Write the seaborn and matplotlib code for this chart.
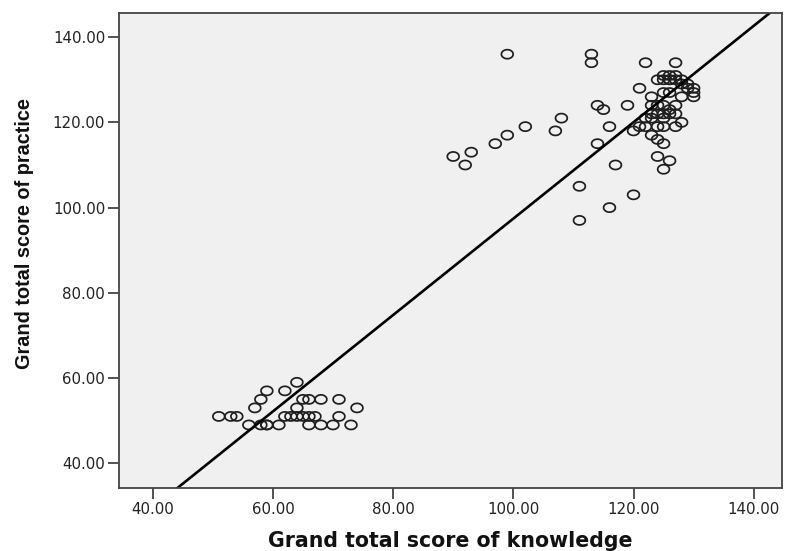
import numpy as np
import pandas as pd
import matplotlib
matplotlib.use("Agg")
import matplotlib.pyplot as plt
from matplotlib.path import Path
import seaborn as sns

# knowledge score (x) and practice score (y)
knowledge = [64, 59, 62, 58, 65, 66, 68, 71, 57, 64, 74,
             51, 53, 54, 62, 63, 64, 65, 66, 67, 71,
             56, 58, 59, 59, 61, 66, 68, 70, 73,
             99, 113, 113, 122, 127, 121,
             124, 125, 126, 127, 126, 127, 128, 125, 128, 129, 126,
             130, 130, 130, 129, 128, 125, 126, 123,
             114, 115, 119, 108, 116, 102, 107, 99, 97, 114, 120,
             93, 90, 92, 117, 111, 116, 111, 120, 124, 126, 125, 125, 124,
             123, 124, 125, 126, 127, 123, 124, 125, 126, 127,
             122, 123, 125, 122, 124, 125, 127, 128, 121, 123]
practice = [59, 57, 57, 55, 55, 55, 55, 55, 53, 53, 53,
            51, 51, 51, 51, 51, 51, 51, 51, 51, 51,
            49, 49, 49, 49, 49, 49, 49, 49, 49,
            136, 136, 134, 134, 134, 128,
            130, 130, 131, 131, 130, 130, 130, 131, 129, 129, 130,
            128, 127, 126, 128, 126, 127, 127, 126,
            124, 123, 124, 121, 119, 119, 118, 117, 115, 115, 118,
            113, 112, 110, 110, 105, 100, 97, 103, 112, 111, 109, 115, 116,
            124, 124, 124, 123, 124, 122, 122, 122, 122, 122,
            121, 121, 121, 119, 119, 119, 119, 120, 119, 117]
ticks = [40, 60, 80, 100, 120, 140]

df = pd.DataFrame({"knowledge": knowledge, "practice": practice})

sns.set_style("white")
plt.rcParams["font.family"] = ["DejaVu Sans"]

fig = plt.figure(figsize=(7.86, 5.51), dpi=100)
ax = fig.add_axes([0.1514, 0.1143, 0.8435, 0.8616])
ax.set_facecolor("#f0f0f0")
ax.set_xlim(34.4, 144.7)
ax.set_ylim(34.2, 145.6)

# slightly wide open ring, like the SPSS marker in the source
t = np.linspace(0, 2 * np.pi, 41)
ring = Path(np.column_stack([1.3 * np.cos(t), np.sin(t)]))

sns.scatterplot(data=df, x="knowledge", y="practice", marker=ring, s=72,
                facecolor="none", edgecolor="#1e1e1e", linewidth=1.25, ax=ax)
sns.regplot(data=df, x="knowledge", y="practice", scatter=False, ci=None,
            truncate=False, color="black", line_kws={"lw": 1.9}, ax=ax)
ax.set_xlim(34.4, 144.7)
ax.set_ylim(34.2, 145.6)

ax.set_xticks(ticks)
ax.set_xticklabels([f"{v:.2f}" for v in ticks])
ax.set_yticks(ticks)
ax.set_yticklabels([f"{v:.2f}" for v in ticks])
ax.tick_params(bottom=True, left=True, direction="out", length=8, width=1.2,
               color="#333333", labelsize=10.8, pad=2, labelcolor="#222222")
for s in ax.spines.values():
    s.set_color("#444444")
    s.set_linewidth(1.3)

ax.set_xlabel("Grand total score of knowledge", fontsize=14.8, fontweight="bold",
              color="#111111")
ax.set_ylabel("Grand total score of practice", fontsize=14.3, fontweight="bold",
              family=["Liberation Sans"], color="#111111")
ax.xaxis.set_label_coords(0.5, -0.09)
ax.yaxis.set_label_coords(-0.128, 0.535)

fig.savefig("out.png", dpi=100, facecolor="white")
